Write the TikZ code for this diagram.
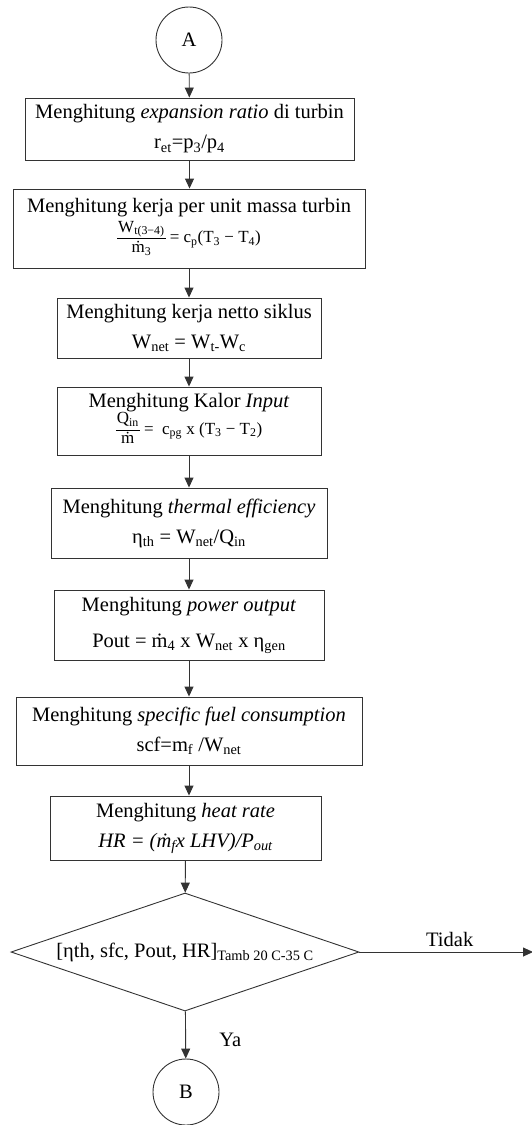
\documentclass[tikz,border=0pt]{standalone}
\usepackage{fontspec}
\setmainfont{Liberation Serif}
\usetikzlibrary{shapes.geometric,arrows.meta}
\newcommand{\pecahan}[3][1]{{\renewcommand{\arraystretch}{#1}\setlength{\tabcolsep}{1pt}\begin{tabular}{c}#2\\\hline#3\end{tabular}}}
\begin{document}
\begin{tikzpicture}[x=1pt,y=-1pt,
                line width=0.9pt,
                every node/.style={font=\fontsize{20.5}{30}\selectfont},
                proc/.style={draw=black!80,rectangle,align=center,inner sep=1pt},
                conn/.style={draw=black!80,circle,minimum size=66pt,inner sep=0pt},
                decis/.style={draw=black!80,diamond,aspect=2.95,minimum width=348pt,minimum height=118pt,inner sep=0pt},
                flow/.style={draw=black!80,-{Triangle[length=10pt,width=9pt]}}]
                \useasboundingbox (0,0) rectangle (532,1125);
                \node[conn] (A) at (189,40) {A};
                \node[proc,minimum width=329pt,minimum height=62pt] (ratio) at (189.5,129) {Menghitung \textit{expansion ratio} di turbin\\r\textsubscript{et}=p\textsubscript{3}/p\textsubscript{4}};
                \node[proc,minimum width=352pt,minimum height=79pt] (kerja) at (189,228.5) {Menghitung kerja per unit massa turbin\\{\fontsize{17}{20}\selectfont\pecahan{W\textsubscript{t(3−4)}}{\.{m}\textsubscript{3}} = c\textsubscript{p}(T\textsubscript{3} − T\textsubscript{4})}};
                \node[proc,minimum width=264pt,minimum height=60pt] (netto) at (189,328) {Menghitung kerja netto siklus\\W\textsubscript{net} = W\textsubscript{t-}W\textsubscript{c}};
                \node[proc,minimum width=264pt,minimum height=68pt] (kalor) at (189,421) {Menghitung Kalor \textit{Input}\\[-3pt]{\fontsize{17}{20}\selectfont\pecahan[0.95]{Q\textsubscript{in}}{\.{m}} =~ c\textsubscript{pg} x (T\textsubscript{3} − T\textsubscript{2})}};
                \node[proc,minimum width=276pt,minimum height=70pt] (effic) at (189,523) {Menghitung \textit{thermal efficiency}\\η\textsubscript{th} = W\textsubscript{net}/Q\textsubscript{in}};
                \node[proc,minimum width=270pt,minimum height=70pt] (power) at (189,625) {Menghitung \textit{power output}\\[6pt]Pout = \.{m}\textsubscript{4} x W\textsubscript{net} x η\textsubscript{gen}};
                \node[proc,minimum width=346pt,minimum height=68pt] (fuel) at (189,731) {Menghitung \textit{specific fuel consumption}\\scf=m\textsubscript{f} /W\textsubscript{net}};
                \node[proc,minimum width=271pt,minimum height=64pt] (heat) at (185.5,828) {Menghitung \textit{heat rate}\\\textit{HR = (\.{m}\textsubscript{f}x LHV)/P\textsubscript{out}}};
                \node[decis] (cek) at (185,952) {[ηth, sfc, Pout, HR]\textsubscript{Tamb 20 C-35 C}};
                \node[conn] (B) at (186,1092) {B};
                \coordinate (tidak) at (533,952);
                \draw[flow] (A) -- (ratio);
                \draw[flow] (ratio) -- (ratio.south |- kerja.north);
                \draw[flow] (kerja.south) -- (kerja.south |- netto.north);
                \draw[flow] (netto) -- (kalor);
                \draw[flow] (kalor) -- (effic);
                \draw[flow] (effic) -- (power);
                \draw[flow] (power) -- (fuel);
                \draw[flow] (fuel.south) -- (fuel.south |- heat.north);
                \draw[flow] (heat) -- (cek);
                \draw[flow] (cek) -- (B) node[pos=0.6,anchor=west,xshift=30pt] {Ya};
                \draw[flow] (cek) -- (tidak) node[pos=0.52,anchor=south,yshift=2pt] {Tidak};
\end{tikzpicture}
\end{document}
